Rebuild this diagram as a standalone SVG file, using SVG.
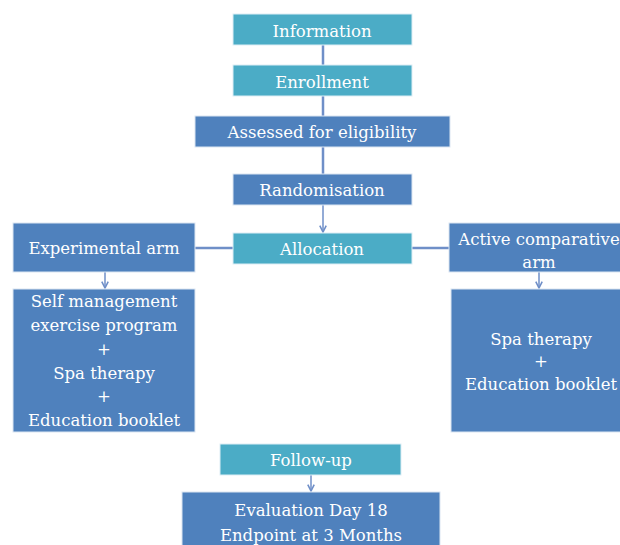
<svg xmlns="http://www.w3.org/2000/svg" width="620" height="545" viewBox="0 0 620 545">
<defs>
<marker id="ah" viewBox="0 0 10 10" refX="9" refY="5" markerWidth="8" markerHeight="8" markerUnits="userSpaceOnUse" orient="auto">
<path d="M1,1 L9,5 L1,9" fill="none" stroke="#6F8FC8" stroke-width="2"/>
</marker>
</defs>
<style>
.teal{fill:#4BACC6;stroke:#DDEEF5;stroke-width:1}
.blue{fill:#4F81BD;stroke:#DCE6F2;stroke-width:1}
text{font-family:"DejaVu Serif","Liberation Serif",serif;font-size:16.5px;fill:#FFFFFF;text-anchor:middle}
.c line{stroke:#6F8FC8;stroke-width:2.5}
.c .ar{stroke-width:1.5}
</style>
<rect width="620" height="545" fill="#FFFFFF"/>
<g class="c" id="connectors">
<line x1="323" y1="45" x2="323" y2="65"/>
<line x1="323" y1="96" x2="323" y2="116"/>
<line x1="323" y1="147" x2="323" y2="174"/>
<line class="ar" x1="323" y1="205" x2="323" y2="232" marker-end="url(#ah)"/>
<line x1="195" y1="248" x2="233" y2="248"/>
<line x1="412" y1="248" x2="449" y2="248"/>
<line class="ar" x1="105" y1="272" x2="105" y2="288" marker-end="url(#ah)"/>
<line class="ar" x1="539" y1="272" x2="539" y2="288" marker-end="url(#ah)"/>
<line class="ar" x1="311" y1="475" x2="311" y2="491" marker-end="url(#ah)"/>
</g>
<g id="information"><rect class="teal" x="233" y="14" width="179" height="31"/><text x="322" y="37">Information</text></g>
<g id="enrollment"><rect class="teal" x="233" y="65" width="179" height="31"/><text x="322" y="88">Enrollment</text></g>
<g id="assessed"><rect class="blue" x="195" y="116" width="255" height="31"/><text x="322" y="138">Assessed for eligibility</text></g>
<g id="randomisation"><rect class="blue" x="233" y="174" width="179" height="31"/><text x="322" y="196">Randomisation</text></g>
<g id="allocation"><rect class="teal" x="233" y="233" width="179" height="31"/><text x="322" y="255">Allocation</text></g>
<g id="experimental"><rect class="blue" x="13" y="223" width="182" height="49"/><text x="104" y="254">Experimental arm</text></g>
<g id="active"><rect class="blue" x="449" y="223" width="180" height="49"/><text x="539" y="245">Active comparative</text><text x="539" y="268">arm</text></g>
<g id="left-intervention"><rect class="blue" x="13" y="289" width="182" height="143"/>
<text x="104" y="307">Self management</text>
<text x="104" y="331">exercise program</text>
<text x="104" y="355">+</text>
<text x="104" y="379">Spa therapy</text>
<text x="104" y="402">+</text>
<text x="104" y="426">Education booklet</text></g>
<g id="right-intervention"><rect class="blue" x="451" y="289" width="178" height="143"/>
<text x="541" y="345">Spa therapy</text>
<text x="541" y="367">+</text>
<text x="541" y="390">Education booklet</text></g>
<g id="followup"><rect class="teal" x="220" y="444" width="181" height="31"/><text x="311" y="466">Follow-up</text></g>
<g id="evaluation"><rect class="blue" x="182" y="492" width="258" height="60"/><text x="311" y="516">Evaluation Day 18</text><text x="311" y="541">Endpoint at 3 Months</text></g>
</svg>
